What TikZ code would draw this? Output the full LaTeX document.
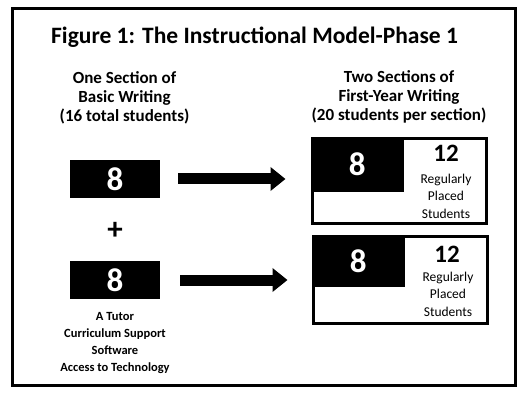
\documentclass[tikz,border=0pt]{standalone}
\usepackage{fontspec}
\setmainfont{Carlito}
\usetikzlibrary{arrows.meta, positioning}

\begin{document}
\begin{tikzpicture}[x=1pt, y=-1pt,
    outerframe/.style={draw=black, line width=3pt},
    heading/.style={font=\bfseries\fontsize{17}{19}\selectfont, align=center, inner sep=0pt},
    blackbox/.style={fill=black, text=white, inner sep=0pt, font=\bfseries\fontsize{33}{33}\selectfont},
    sectbox/.style={draw=black, line width=3pt, minimum width=174pt, minimum height=86pt, inner sep=0pt},
    bignum/.style={font=\bfseries\fontsize{25}{25}\selectfont, inner sep=0pt},
    placed/.style={font=\fontsize{13.5}{17.5}\selectfont, align=center, inner sep=0pt},
    support/.style={font=\bfseries\fontsize{12.5}{17}\selectfont, align=center, inner sep=0pt},
    fatarrow/.style={line width=11pt, -{Triangle[length=15pt, width=23pt]}}]
    \useasboundingbox (0,0) rectangle (529,395);
    \draw[outerframe] (12,9) rectangle (515,385);
    \node[font=\bfseries\fontsize{23.5}{23.5}\selectfont, anchor=base west, inner sep=0pt] (title) at (51,44)
        {Figure 1: The Instructional Model-Phase 1};
    \node[heading] (bwHead) at (124.5,98) {One Section of\\Basic Writing\\(16 total students)};
    \node[heading] (fyHead) at (399,97) {Two Sections of\\First-Year Writing\\(20 students per section)};
    % basic writing side
    \node[blackbox, minimum width=90pt, minimum height=38pt] (bwTop) at (115,179) {8};
    \node[font=\bfseries\fontsize{31}{31}\selectfont, inner sep=0pt] (plus) at (115,231) {+};
    \node[blackbox, minimum width=90pt, minimum height=38pt] (bwBot) at (115,280) {8};
    \node[support] (tutor) at (115,316) {A Tutor};
    \node[support, below=8pt of tutor] (extras) {Curriculum Support\\Software\\Access to Technology};
    % first-year writing side
    \node[sectbox, minimum height=85pt] (fyTop) at (399,181) {};
    \node[blackbox, anchor=north west, minimum width=93pt, minimum height=55pt] (fyTopIn) at (fyTop.north west) {8};
    \node[bignum] (fyTopNum) at (446,153) {12};
    \node[placed] (fyTopTxt) at (446,196) {Regularly\\Placed\\Students};
    \node[sectbox, minimum height=87pt] (fyBot) at (400,280) {};
    \node[blackbox, anchor=north west, minimum width=93pt, minimum height=52pt] (fyBotIn) at (fyBot.north west) {8};
    \node[bignum] (fyBotNum) at (447,254) {12};
    \node[placed] (fyBotTxt) at (448,294) {Regularly\\Placed\\Students};
    \draw[fatarrow] ([xshift=18pt]bwTop.east) -- ([xshift=-25pt]bwTop.east -| fyTop.west);
    \draw[fatarrow] ([xshift=20pt]bwBot.east) -- ([xshift=-24pt]bwBot.east -| fyBot.west);
\end{tikzpicture}
\end{document}
